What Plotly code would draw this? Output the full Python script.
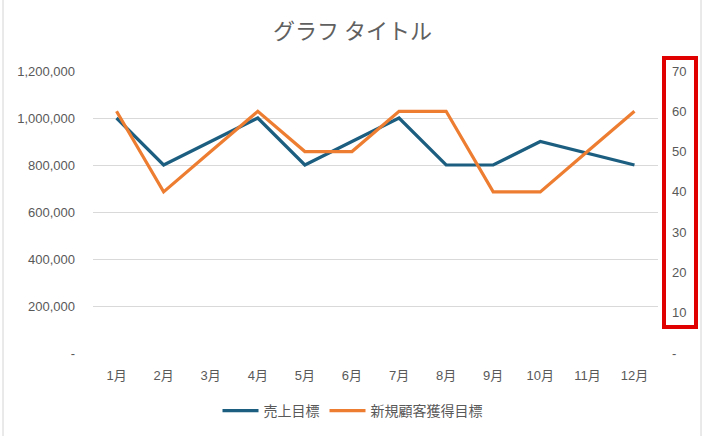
import plotly.graph_objects as go

months = ["1月", "2月", "3月", "4月", "5月", "6月", "7月", "8月", "9月", "10月", "11月", "12月"]
sales_target = [1000000, 800000, 900000, 1000000, 800000, 900000, 1000000, 800000, 800000, 900000, 850000, 800000]
new_customer_target = [60, 40, 50, 60, 50, 50, 60, 60, 40, 40, 50, 60]

y1_ticks = [0, 200000, 400000, 600000, 800000, 1000000, 1200000]
y1_labels = ["-", "200,000", "400,000", "600,000", "800,000", "1,000,000", "1,200,000"]
y2_ticks = [0, 10, 20, 30, 40, 50, 60, 70]
y2_labels = ["-", "10", "20", "30", "40", "50", "60", "70"]

FONT = "Liberation Sans, Noto Sans CJK JP, sans-serif"
GRAY = "#595959"

fig = go.Figure()
fig.add_trace(go.Scatter(x=months, y=sales_target, name="売上目標", mode="lines",
                         line=dict(color="#1B5E80", width=3.2), yaxis="y"))
fig.add_trace(go.Scatter(x=months, y=new_customer_target, name="新規顧客獲得目標", mode="lines",
                         line=dict(color="#ED7D31", width=3.2), yaxis="y2"))

fig.update_layout(
    width=705, height=436,
    margin=dict(l=93, r=47, t=71, b=83, autoexpand=False),
    paper_bgcolor="white", plot_bgcolor="white",
    font=dict(family=FONT, color=GRAY, size=13),
    title=dict(text="グラフ タイトル", x=0.5, xanchor="center",
               y=1 - 31 / 436, yanchor="middle", yref="container",
               font=dict(size=22, color="#606060", family="Noto Sans CJK JP")),
    xaxis=dict(type="category", showgrid=False, showline=False, ticks="",
               ticklabelstandoff=13, tickfont=dict(size=13, color=GRAY),
               range=[-0.5, 11.5], automargin=False),
    yaxis=dict(range=[0, 1200000], tickvals=y1_ticks, ticktext=y1_labels,
               showgrid=True, gridcolor="#D9D9D9", gridwidth=1, zeroline=False,
               showline=False, ticks="", ticklabelstandoff=17, automargin=False,
               tickfont=dict(size=13, color=GRAY)),
    yaxis2=dict(range=[0, 70], tickvals=y2_ticks, ticktext=y2_labels, overlaying="y",
                side="right", showgrid=False, zeroline=False, showline=False, ticks="",
                ticklabelstandoff=13, automargin=False,
                tickfont=dict(size=13, color=GRAY)),
    legend=dict(orientation="h", x=0.5, xanchor="center", xref="container",
                y=1 - 411 / 436, yanchor="middle", yref="container",
                font=dict(size=14, color=GRAY), itemwidth=36, tracegroupgap=0),
    showlegend=True,
    shapes=[
        dict(type="line", xref="paper", yref="paper",
             x0=(3 - 93) / 565, x1=(3 - 93) / 565, y0=-83 / 282, y1=(353) / 282,
             line=dict(color="#D4D4D4", width=1)),
        dict(type="line", xref="paper", yref="paper",
             x0=(701 - 93) / 565, x1=(701 - 93) / 565, y0=-83 / 282, y1=(353) / 282,
             line=dict(color="#D4D4D4", width=1)),
        dict(type="rect", xref="paper", yref="paper",
             x0=(664 - 93) / 565, x1=(696 - 93) / 565,
             y0=(353 - 327) / 282, y1=(353 - 58) / 282,
             line=dict(color="#E00000", width=4), fillcolor="rgba(0,0,0,0)"),
    ],
)

fig.write_html("out.html", config={"displayModeBar": False},
               post_script="document.body.style.margin='0';document.body.style.overflow='hidden';")
